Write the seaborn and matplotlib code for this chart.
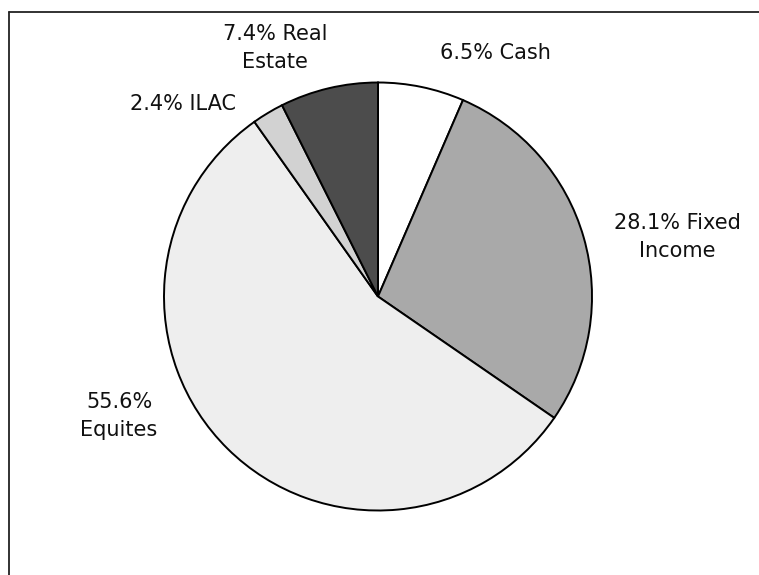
import matplotlib
matplotlib.use("Agg")
import matplotlib.pyplot as plt
import seaborn as sns
from matplotlib.lines import Line2D

# asset allocation, clockwise from 12 o'clock
assets = ["Cash", "Fixed Income", "Equites", "ILAC", "Real Estate"]
shares = [6.5, 28.1, 55.6, 2.4, 7.4]
labels = ["6.5% Cash", "28.1% Fixed\nIncome", "55.6%\nEquites", "2.4% ILAC", "7.4% Real\nEstate"]
greys = ["#ffffff", "#a9a9a9", "#eeeeee", "#d2d2d2", "#4c4c4c"]

# where the labels sit (pie radius = 1)
label_xy = [(0.55, 1.14), (1.40, 0.28), (-1.21, -0.56), (-0.91, 0.90), (-0.48, 1.16)]

sns.set_theme(style="white")
plt.rcParams['font.family'] = ['DejaVu Sans']

fig = plt.figure(figsize=(7.59, 5.75), dpi=100)
ax = fig.add_axes([0, 0, 1, 1])

r_px = 214.0
cx, cy = 378.0, 296.5

wedges, texts = ax.pie(shares, labels=labels, colors=greys, startangle=90,
                       counterclock=False,
                       wedgeprops=dict(edgecolor="black", linewidth=1.4),
                       textprops=dict(fontsize=15, color="#111111"))

for t, (x, y) in zip(texts, label_xy):
    t.set_position((x, y))
    t.set_ha("center")
    t.set_va("center")
    t.set_multialignment("center")
    t.set_linespacing(1.5)

ax.set_xlim(-cx / r_px, (759 - cx) / r_px)
ax.set_ylim((cy - 575) / r_px, cy / r_px)
ax.set_aspect("equal", adjustable="datalim")
ax.axis("off")

# chart frame: only top and left edges show in the crop
fig.add_artist(Line2D([8.5 / 759, 1], [1 - 11.5 / 575, 1 - 11.5 / 575],
                      transform=fig.transFigure, color="#222222", lw=1.3))
fig.add_artist(Line2D([8.5 / 759, 8.5 / 759], [0, 1 - 11.5 / 575],
                      transform=fig.transFigure, color="#222222", lw=1.3))

plt.savefig("out.png", dpi=100)
